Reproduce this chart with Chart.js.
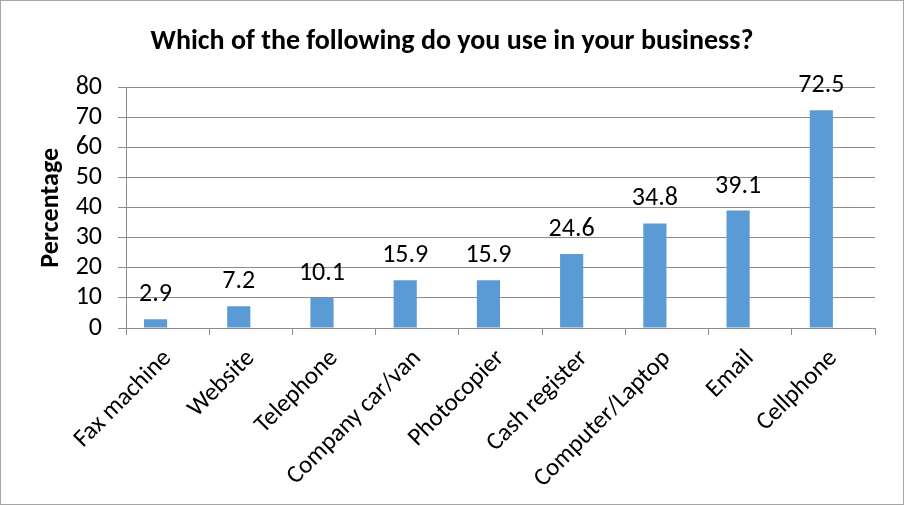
<!DOCTYPE html>
<html>
<head>
<meta charset="utf-8">
<script src="https://cdn.jsdelivr.net/npm/chart.js@4/dist/chart.umd.min.js"></script>
<style>
  html, body { margin: 0; padding: 0; background: #fff; }
  #wrap { width: 904px; height: 505px; box-sizing: border-box; border: 1px solid #a6a6a6; }
</style>
</head>
<body>
<div id="wrap"><canvas id="chart" width="902" height="503"></canvas></div>
<script>
const categories = ["Fax machine", "Website", "Telephone", "Company car/van", "Photocopier",
  "Cash register", "Computer/Laptop", "Email", "Cellphone"];
const percentages = [2.9, 7.2, 10.1, 15.9, 15.9, 24.6, 34.8, 39.1, 72.5];
// the source chart keeps an empty second series, which pushes the bars left in each slot
const emptySeries = [null, null, null, null, null, null, null, null, null];
const yTicks = [0, 10, 20, 30, 40, 50, 60, 70, 80];

const FONT = "Carlito, Calibri, 'Open Sans', sans-serif";
const gridColor = "#8c8c8c";

// draw the value above each bar
const barValues = {
  id: "barValues",
  afterDatasetsDraw(chart) {
    const ctx = chart.ctx;
    const meta = chart.getDatasetMeta(0);
    ctx.save();
    ctx.font = "26px " + FONT;
    ctx.fillStyle = "#000";
    ctx.textAlign = "center";
    ctx.textBaseline = "alphabetic";
    meta.data.forEach((bar, i) => {
      ctx.fillText(percentages[i].toFixed(1), bar.x, bar.y - 18);
    });
    ctx.restore();
  }
};

new Chart(document.getElementById("chart"), {
  type: "bar",
  data: {
    labels: categories,
    datasets: [{
      data: percentages,
      backgroundColor: "#5b9bd5",
      barPercentage: 0.96,
      categoryPercentage: 0.58
    }, {
      data: emptySeries,
      backgroundColor: "#ed7d31",
      barPercentage: 0.96,
      categoryPercentage: 0.58
    }]
  },
  options: {
    responsive: false,
    animation: false,
    layout: { padding: { top: 0, right: 28, bottom: 0, left: 28 } },
    plugins: {
      legend: { display: false },
      tooltip: { enabled: false },
      title: {
        display: true,
        text: "Which of the following do you use in your business?",
        color: "#000",
        font: { family: FONT, size: 28, weight: "bold" },
        padding: { top: 24, bottom: 29 }
      }
    },
    scales: {
      x: {
        grid: { offset: true, drawOnChartArea: false, drawTicks: true, tickLength: 7, color: gridColor },
        border: { color: gridColor },
        ticks: { color: "#000", font: { family: FONT, size: 25 }, minRotation: 45, maxRotation: 45, padding: 9 },
        afterFit(scale) { scale.height = 176; }
      },
      y: {
        min: 0,
        max: 80,
        afterBuildTicks(scale) { scale.ticks = yTicks.map(v => ({ value: v })); },
        grid: { color: gridColor, tickLength: 8 },
        border: { color: gridColor },
        ticks: { color: "#000", font: { family: FONT, size: 26 }, padding: 16, autoSkip: false },
        title: {
          display: true,
          text: "Percentage",
          color: "#000",
          font: { family: FONT, size: 26, weight: "bold" },
          padding: { top: 7, bottom: 0 }
        },
        afterFit(scale) { scale.width = 97; }
      }
    }
  },
  plugins: [barValues]
});
</script>
</body>
</html>
